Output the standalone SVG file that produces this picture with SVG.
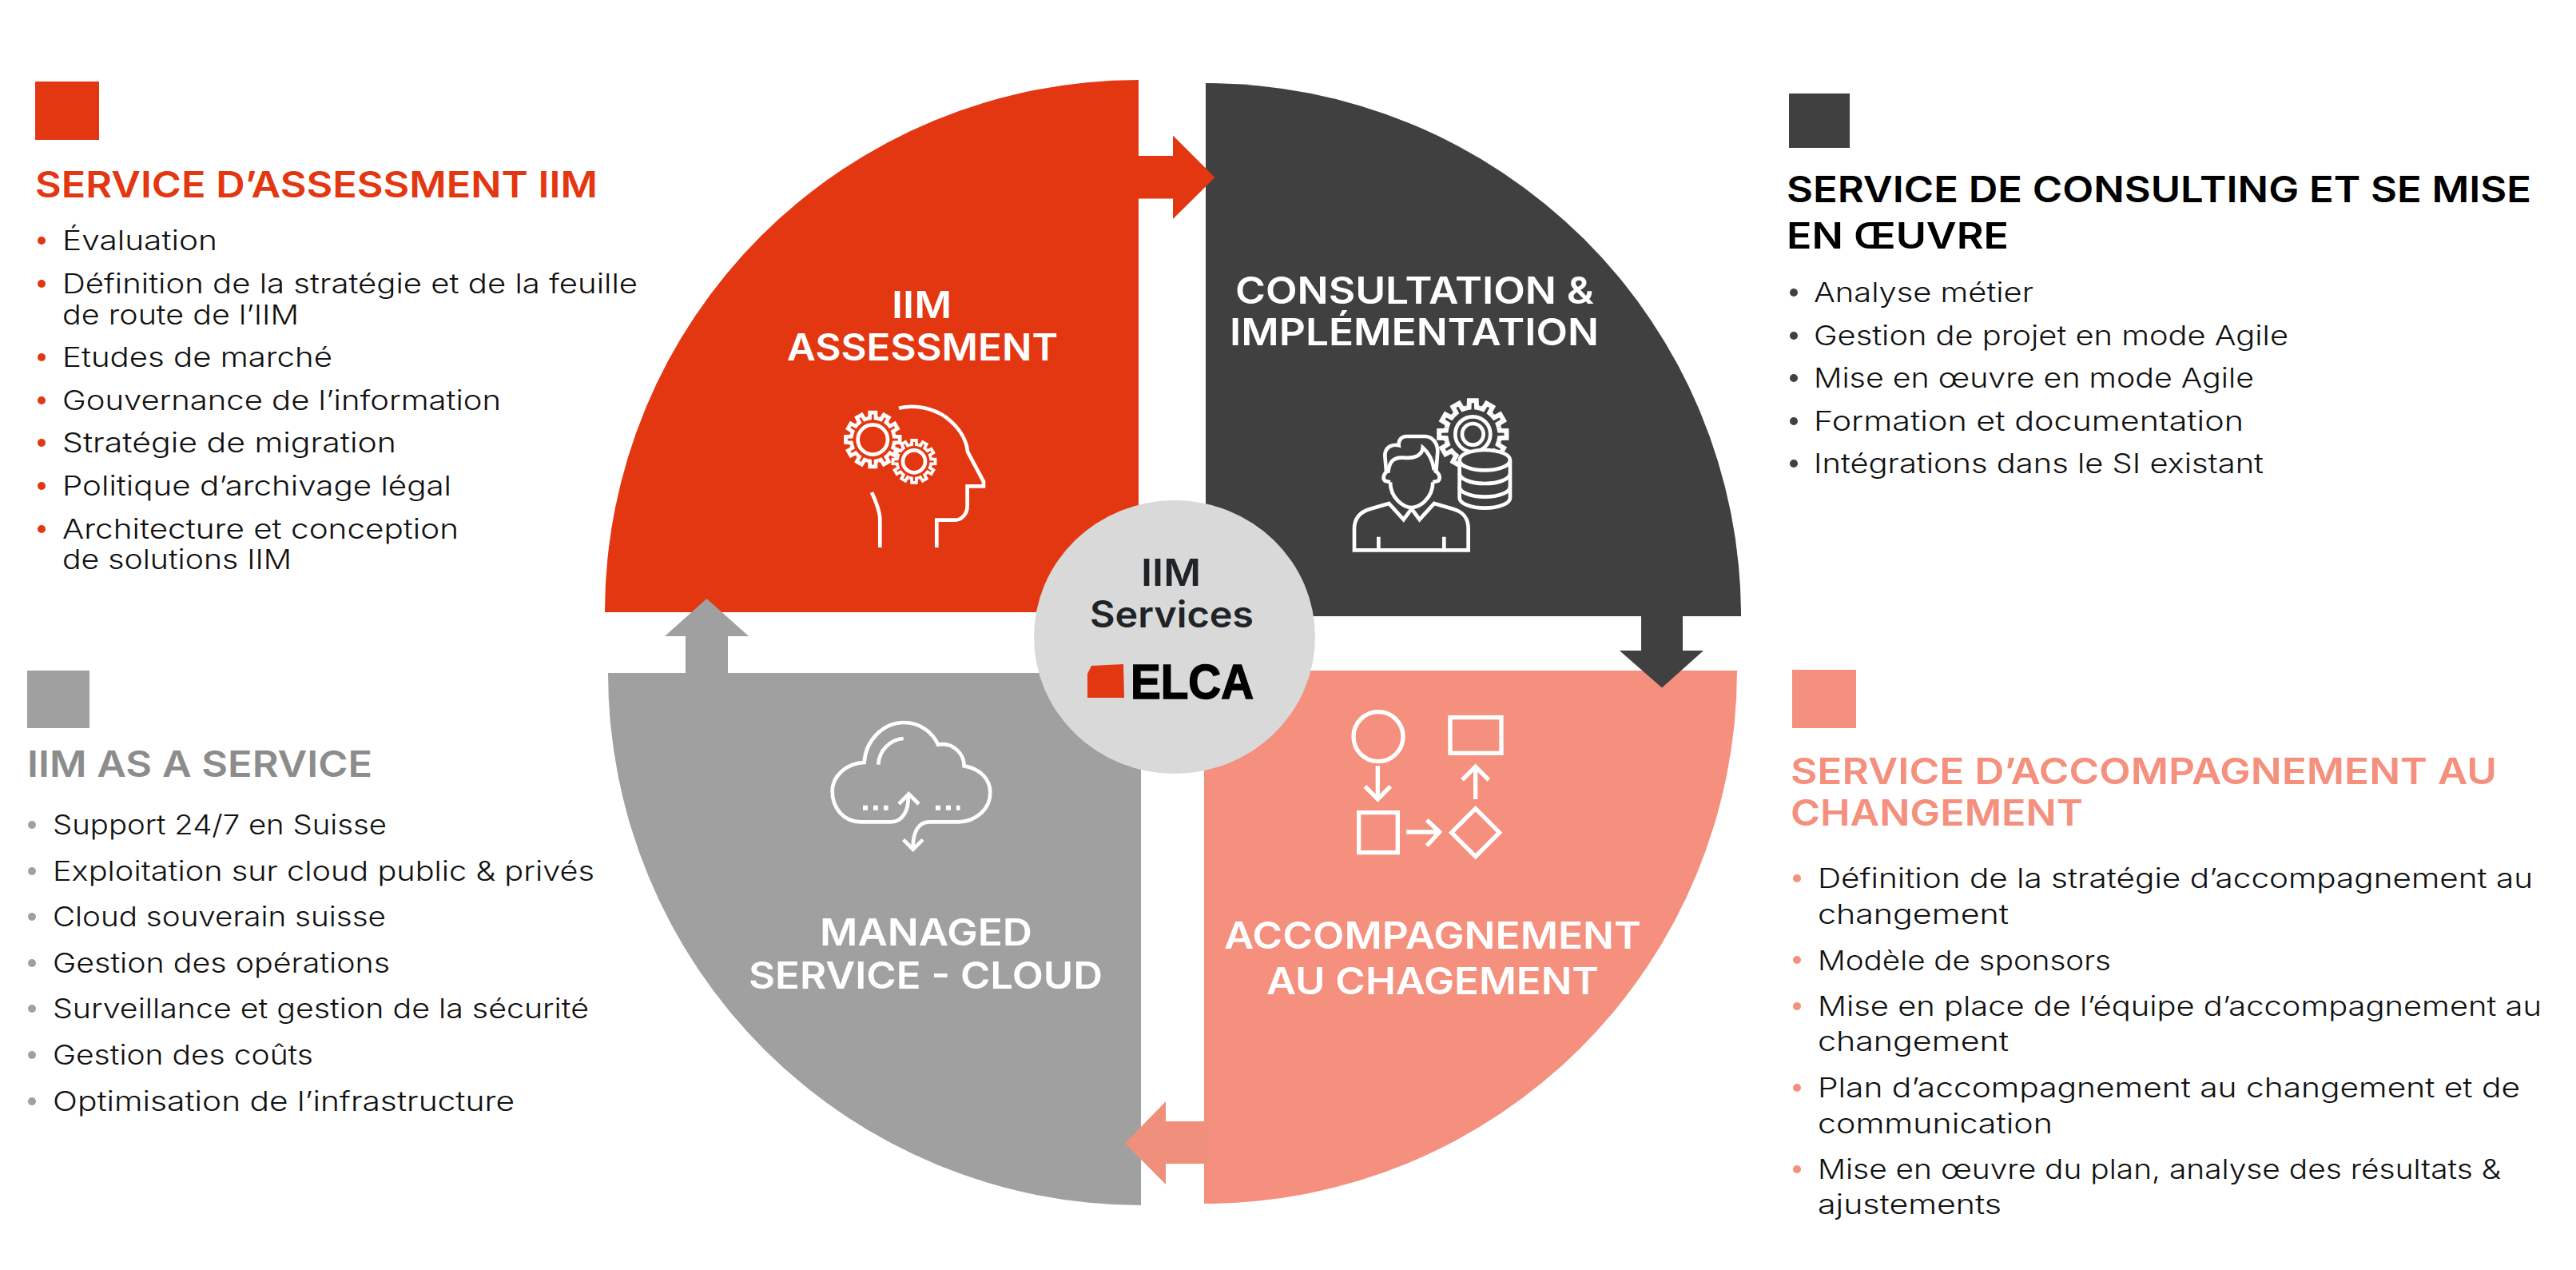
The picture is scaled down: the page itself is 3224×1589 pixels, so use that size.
<svg xmlns="http://www.w3.org/2000/svg" xmlns:xlink="http://www.w3.org/1999/xlink" width="3224" height="1589" viewBox="0 0 3224 1589">
<style>
text{font-family:"Inter","Noto Sans","Liberation Sans",sans-serif}
.b{font-size:34px;font-weight:300;fill:#111}
.t{font-size:45px;font-weight:600}
.q{font-size:46px;font-weight:600;fill:#fff}
.c{font-size:46px;font-weight:600;fill:#202428}
.i{fill:none;stroke:#fff;stroke-width:14;stroke-linejoin:miter}
.red{fill:#e33712}.dark{fill:#404040}.gray{fill:#a0a0a0}.sal{fill:#f4907d}
</style>
<defs>
<path id="tooth" d="M-20.7,-77.3L-11.1,-79.2L-10.5,-99.5L10.5,-99.5L11.1,-79.2L20.7,-77.3"/>
<g id="gear">
<use xlink:href="#tooth"/><use xlink:href="#tooth" transform="rotate(30)"/><use xlink:href="#tooth" transform="rotate(60)"/><use xlink:href="#tooth" transform="rotate(90)"/><use xlink:href="#tooth" transform="rotate(120)"/><use xlink:href="#tooth" transform="rotate(150)"/><use xlink:href="#tooth" transform="rotate(180)"/><use xlink:href="#tooth" transform="rotate(210)"/><use xlink:href="#tooth" transform="rotate(240)"/><use xlink:href="#tooth" transform="rotate(270)"/><use xlink:href="#tooth" transform="rotate(300)"/><use xlink:href="#tooth" transform="rotate(330)"/>
</g>
</defs>
<rect width="3224" height="1589" fill="#fff"/>

<g id="node-assessment">
<path class="red" d="M1425,100V766H757A668,666 0 0 1 1425,100Z"/>
<text class="q" x="1116" y="398" textLength="75" lengthAdjust="spacingAndGlyphs">IIM</text>
<text class="q" x="985" y="451" textLength="339" lengthAdjust="spacingAndGlyphs">ASSESSMENT</text>
<g class="i" transform="translate(1000,480) scale(.3333)">
<path d="M375,92C430,78 500,90 550,125C610,170 630,220 633,255L693,368V385H632V460C632,490 610,512 585,512H517V615"/>
<path d="M273,408C290,445 304,480 304,510V615"/>
<g transform="translate(277,210) scale(1.02)"><use xlink:href="#gear"/></g>
<circle cx="277" cy="210" r="56"/>
<g transform="translate(432,292) scale(.8)"><use xlink:href="#gear"/></g>
<circle cx="432" cy="292" r="42"/>
</g>
</g>

<g id="node-consultation">
<path class="dark" d="M1509,104V771H2179A670,667 0 0 0 1509,104Z"/>
<text class="q" x="1546" y="380" textLength="449" lengthAdjust="spacingAndGlyphs">CONSULTATION &amp;</text>
<text class="q" x="1539" y="432" textLength="462" lengthAdjust="spacingAndGlyphs">IMPLÉMENTATION</text>
<g class="i" transform="translate(1660,480) scale(.3333)">
<g transform="translate(550,190) scale(1.27)"><use xlink:href="#gear"/></g>
<circle cx="550" cy="190" r="66"/><circle cx="550" cy="190" r="40"/>
<path fill="#404040" d="M500,287A95,38 0 0 1 690,287V429A95,38 0 0 1 500,429Z"/>
<path d="M500,287A95,38 0 0 0 690,287M500,337A95,38 0 0 0 690,337M500,387A95,38 0 0 0 690,387"/>
<path fill="#404040" d="M105,625V545C105,500 130,480 165,470L235,450L290,510L320,470L350,510L405,450L475,470C510,480 533,500 533,545V625Z"/>
<path d="M196,575V625M442,575V625"/>
<path fill="#404040" d="M240,370C240,430 290,465 320,465C350,465 400,430 400,370"/>
<path d="M235,325C215,335 210,355 220,365L240,370M405,325C425,335 430,355 420,365L400,370"/>
<path d="M225,330L220,270C220,240 245,225 272,232C270,210 285,198 300,198H370C400,198 418,225 418,255L412,330"/>
<path d="M232,335C235,300 245,275 290,278C330,282 360,270 362,240C385,260 400,290 405,325"/>
</g>
</g>

<g id="node-managed">
<path class="gray" d="M1428,842V1508A667,666 0 0 1 761,842Z"/>
<text class="q" x="1026" y="1183" textLength="266" lengthAdjust="spacingAndGlyphs">MANAGED</text>
<text class="q" x="937" y="1237" textLength="443" lengthAdjust="spacingAndGlyphs">SERVICE - CLOUD</text>
<g class="i" transform="translate(1000,880) scale(.3333)">
<path d="M410,350C412,400 390,445 345,445H230C170,445 125,395 125,330C125,275 175,225 245,222C250,140 315,72 395,72C450,72 500,105 522,155C580,145 620,190 620,235C680,245 718,285 718,335C718,400 660,445 600,445H490C450,445 428,480 428,540"/>
<path d="M375,378L412,340L450,378M392,512L428,548L465,512M298,230C300,175 345,135 392,132"/>
<path stroke-width="18" stroke-dasharray="18 21" d="M240,392H335M513,392H605"/>
</g>
</g>

<g id="node-accompagnement">
<path class="sal" d="M1507,839H2174A667,667 0 0 1 1507,1506Z"/>
<text class="q" x="1532" y="1187" textLength="522" lengthAdjust="spacingAndGlyphs">ACCOMPAGNEMENT</text>
<text class="q" x="1585" y="1244" textLength="416" lengthAdjust="spacingAndGlyphs">AU CHAGEMENT</text>
<g class="i" style="stroke-width:16" transform="translate(1660,870) scale(.3333)">
<circle cx="195" cy="155" r="93"/>
<path d="M193,265V390M145,342L193,390L241,342"/>
<rect x="122" y="440" width="146" height="150"/>
<path d="M300,513H425M377,468L425,513L377,565"/>
<path d="M560,425L650,515L560,605L470,515Z"/>
<path d="M560,390V270M510,318L560,268L610,318"/>
<rect x="465" y="83" width="192" height="134"/>
</g>
</g>

<g id="connectors">
<path class="red" d="M1425,195H1468V169.500L1520.500,222L1468,274V248.500H1425Z"/>
<path class="dark" d="M2054,771V814H2027L2080,860.500L2132,814H2106V771Z"/>
<path class="gray" d="M858,842V796H832L884.500,749L937,796H911V842Z"/>
<path fill="#f0907c" d="M1512,1403H1459V1378L1408,1430.500L1459,1482V1456H1512Z"/>
</g>

<g id="node-center">
<ellipse cx="1470" cy="797" rx="176" ry="171" fill="#d9d9d9"/>
<text class="c" x="1428" y="733" textLength="75" lengthAdjust="spacingAndGlyphs">IIM</text>
<text class="c" x="1364" y="785" textLength="205" lengthAdjust="spacingAndGlyphs">Services</text>
<path class="red" d="M1361,843L1366,833L1406,831L1407,873H1361Z"/>
<text x="1415" y="874" textLength="154" lengthAdjust="spacingAndGlyphs" style="font-family:'Liberation Sans',sans-serif;font-size:61px;font-weight:700;fill:#000;stroke:#000;stroke-width:1.500px">ELCA</text>
</g>

<g id="panel-assessment">
<rect class="red" x="44" y="102" width="80" height="73"/>
<text class="t red" x="44" y="247" textLength="704" lengthAdjust="spacingAndGlyphs">SERVICE D’ASSESSMENT IIM</text>
<g class="red"><circle cx="52" cy="301" r="5"/><circle cx="52" cy="355" r="5"/><circle cx="52" cy="447" r="5"/><circle cx="52" cy="501" r="5"/><circle cx="52" cy="554" r="5"/><circle cx="52" cy="608" r="5"/><circle cx="52" cy="662" r="5"/></g>
<text class="b" x="78" y="313" textLength="194" lengthAdjust="spacingAndGlyphs">Évaluation</text>
<text class="b" x="78" y="367" textLength="720" lengthAdjust="spacingAndGlyphs">Définition de la stratégie et de la feuille</text>
<text class="b" x="78" y="406" textLength="296" lengthAdjust="spacingAndGlyphs">de route de l’IIM</text>
<text class="b" x="78" y="459" textLength="338" lengthAdjust="spacingAndGlyphs">Etudes de marché</text>
<text class="b" x="78" y="513" textLength="549" lengthAdjust="spacingAndGlyphs">Gouvernance de l’information</text>
<text class="b" x="78" y="566" textLength="418" lengthAdjust="spacingAndGlyphs">Stratégie de migration</text>
<text class="b" x="78" y="620" textLength="487" lengthAdjust="spacingAndGlyphs">Politique d’archivage légal</text>
<text class="b" x="78" y="674" textLength="496" lengthAdjust="spacingAndGlyphs">Architecture et conception</text>
<text class="b" x="78" y="712" textLength="287" lengthAdjust="spacingAndGlyphs">de solutions IIM</text>
</g>

<g id="panel-consulting">
<rect class="dark" x="2239" y="117" width="76" height="68"/>
<text class="t" fill="#000" x="2236" y="253" textLength="932" lengthAdjust="spacingAndGlyphs">SERVICE DE CONSULTING ET SE MISE</text>
<text class="t" fill="#000" x="2236" y="311" textLength="278" lengthAdjust="spacingAndGlyphs">EN ŒUVRE</text>
<g class="dark"><circle cx="2245" cy="366" r="5"/><circle cx="2245" cy="420" r="5"/><circle cx="2245" cy="473" r="5"/><circle cx="2245" cy="527" r="5"/><circle cx="2245" cy="580" r="5"/></g>
<text class="b" x="2270" y="378" textLength="275" lengthAdjust="spacingAndGlyphs">Analyse métier</text>
<text class="b" x="2270" y="432" textLength="594" lengthAdjust="spacingAndGlyphs">Gestion de projet en mode Agile</text>
<text class="b" x="2270" y="485" textLength="551" lengthAdjust="spacingAndGlyphs">Mise en œuvre en mode Agile</text>
<text class="b" x="2270" y="539" textLength="538" lengthAdjust="spacingAndGlyphs">Formation et documentation</text>
<text class="b" x="2270" y="592" textLength="563" lengthAdjust="spacingAndGlyphs">Intégrations dans le SI existant</text>
</g>

<g id="panel-cloud">
<rect class="gray" x="34" y="839" width="78" height="72"/>
<text class="t" fill="#8c8c8c" x="34" y="972" textLength="432" lengthAdjust="spacingAndGlyphs">IIM AS A SERVICE</text>
<g class="gray"><circle cx="40" cy="1032" r="5"/><circle cx="40" cy="1090" r="5"/><circle cx="40" cy="1147" r="5"/><circle cx="40" cy="1205" r="5"/><circle cx="40" cy="1262" r="5"/><circle cx="40" cy="1320" r="5"/><circle cx="40" cy="1378" r="5"/></g>
<text class="b" x="66" y="1044" textLength="418" lengthAdjust="spacingAndGlyphs">Support 24/7 en Suisse</text>
<text class="b" x="66" y="1102" textLength="678" lengthAdjust="spacingAndGlyphs">Exploitation sur cloud public &amp; privés</text>
<text class="b" x="66" y="1159" textLength="417" lengthAdjust="spacingAndGlyphs">Cloud souverain suisse</text>
<text class="b" x="66" y="1217" textLength="422" lengthAdjust="spacingAndGlyphs">Gestion des opérations</text>
<text class="b" x="66" y="1274" textLength="671" lengthAdjust="spacingAndGlyphs">Surveillance et gestion de la sécurité</text>
<text class="b" x="66" y="1332" textLength="326" lengthAdjust="spacingAndGlyphs">Gestion des coûts</text>
<text class="b" x="66" y="1390" textLength="578" lengthAdjust="spacingAndGlyphs">Optimisation de l’infrastructure</text>
</g>

<g id="panel-change">
<rect class="sal" x="2243" y="838" width="80" height="73"/>
<text class="t sal" x="2241" y="981" textLength="884" lengthAdjust="spacingAndGlyphs">SERVICE D’ACCOMPAGNEMENT AU</text>
<text class="t sal" x="2241" y="1033" textLength="366" lengthAdjust="spacingAndGlyphs">CHANGEMENT</text>
<g class="sal"><circle cx="2249" cy="1099" r="5"/><circle cx="2249" cy="1201" r="5"/><circle cx="2249" cy="1259" r="5"/><circle cx="2249" cy="1361" r="5"/><circle cx="2249" cy="1463" r="5"/></g>
<text class="b" x="2275" y="1111" textLength="895" lengthAdjust="spacingAndGlyphs">Définition de la stratégie d’accompagnement au</text>
<text class="b" x="2275" y="1156" textLength="239" lengthAdjust="spacingAndGlyphs">changement</text>
<text class="b" x="2275" y="1214" textLength="367" lengthAdjust="spacingAndGlyphs">Modèle de sponsors</text>
<text class="b" x="2275" y="1271" textLength="906" lengthAdjust="spacingAndGlyphs">Mise en place de l’équipe d’accompagnement au</text>
<text class="b" x="2275" y="1315" textLength="239" lengthAdjust="spacingAndGlyphs">changement</text>
<text class="b" x="2275" y="1373" textLength="879" lengthAdjust="spacingAndGlyphs">Plan d’accompagnement au changement et de</text>
<text class="b" x="2275" y="1418" textLength="294" lengthAdjust="spacingAndGlyphs">communication</text>
<text class="b" x="2275" y="1475" textLength="855" lengthAdjust="spacingAndGlyphs">Mise en œuvre du plan, analyse des résultats &amp;</text>
<text class="b" x="2275" y="1519" textLength="230" lengthAdjust="spacingAndGlyphs">ajustements</text>
</g>
</svg>
